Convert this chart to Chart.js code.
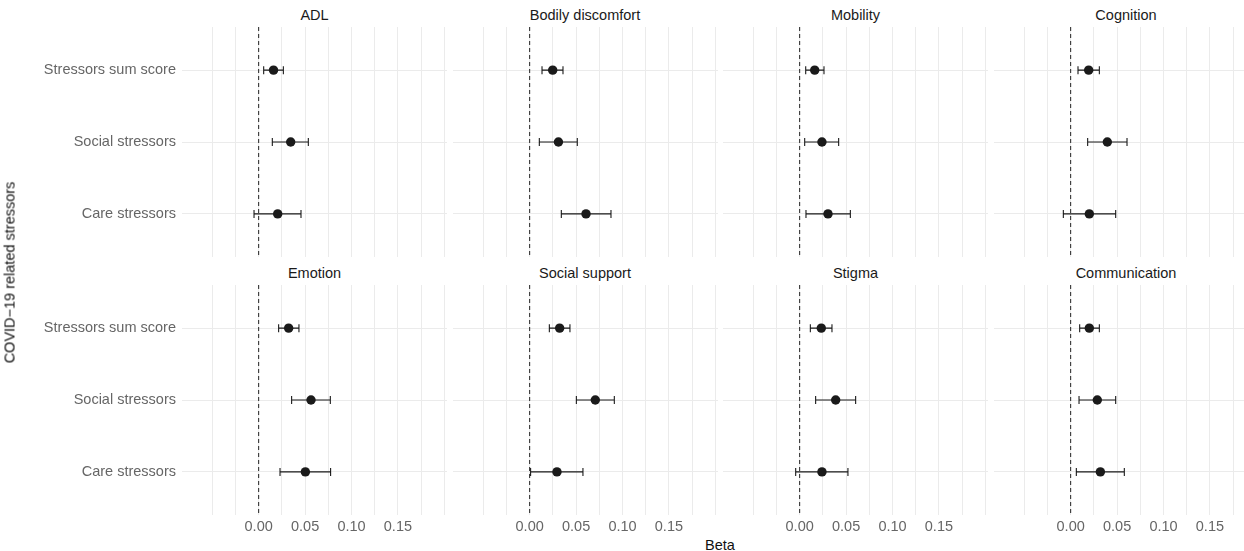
<!DOCTYPE html>
<html lang="en">
<head>
  <meta charset="UTF-8" />
  <title>COVID-19 stressors forest plot</title>
  <script src="https://cdn.jsdelivr.net/npm/chart.js"></script>
  <style>
    body { margin: 0; width: 1244px; height: 551px; overflow: hidden; background: #fff; position: relative;
           font-family: 'Liberation Sans', Arial, sans-serif; }
    .panel { position: absolute; }
    .strip { position: absolute; width: 265px; text-align: center; font-size: 14.5px; line-height: 17px; color: #1a1a1a; }
    .axis-title { position: absolute; font-size: 14.5px; line-height: 17px; color: #111; text-align: center; }
  </style>
</head>
<body>
<script>
// panels in facet order, rows = stressor categories (top to bottom)
const outcomes = ['ADL', 'Bodily discomfort', 'Mobility', 'Cognition',
                  'Emotion', 'Social support', 'Stigma', 'Communication'];
const categories = ['Stressors sum score', 'Social stressors', 'Care stressors'];

const betaEst = [
  [0.016, 0.0345, 0.0205],
  [0.0248, 0.031, 0.0607],
  [0.0162, 0.024, 0.0305],
  [0.0194, 0.0395, 0.0201],
  [0.0323, 0.0564, 0.0503],
  [0.0323, 0.0707, 0.0294],
  [0.0233, 0.0388, 0.024],
  [0.0201, 0.0287, 0.032]
];
const ciLow = [
  [0.0054, 0.0147, -0.005],
  [0.0133, 0.0104, 0.0341],
  [0.0065, 0.0054, 0.0068],
  [0.0079, 0.0183, -0.0079],
  [0.0215, 0.0355, 0.023],
  [0.0212, 0.0503, 0.001],
  [0.0115, 0.0172, -0.0043],
  [0.0097, 0.009, 0.0061]
];
const ciHigh = [
  [0.0266, 0.0535, 0.0456],
  [0.0359, 0.0513, 0.0876],
  [0.0262, 0.042, 0.0546],
  [0.0309, 0.0607, 0.0485],
  [0.0434, 0.0772, 0.0775],
  [0.0434, 0.0912, 0.0574],
  [0.0348, 0.0603, 0.052],
  [0.0309, 0.0485, 0.0578]
];

const xGridValues = [-0.05, -0.025, 0, 0.025, 0.05, 0.075, 0.1, 0.125, 0.15, 0.175, 0.2];
const xTickLabels = [0, 0.05, 0.1, 0.15];
const xMin = -0.0826, xMax = 0.2029;

// layout
const colLeft = [182, 452.5, 723, 993.5];
const rowTop = [27, 285];
const panelW = 265, panelH = 230, yAxisW = 182, xAxisH = 22;
const gridColor = '#ebebeb';
const tickColor = '#666666';
const tickFont = { family: "'Liberation Sans', Arial, sans-serif", size: 14.5 };

const errorBars = {
  id: 'errorBars',
  beforeDatasetDraw(chart, args) {
    if (args.index !== 1) return;
    const xs = chart.scales.x, ys = chart.scales.y, ctx = chart.ctx;
    ctx.save();
    ctx.strokeStyle = '#1a1a1a';
    ctx.lineWidth = 1.1;
    chart.data.datasets[1].data.forEach(p => {
      const py = ys.getPixelForValue(p.y);
      const x0 = xs.getPixelForValue(p.lo), x1 = xs.getPixelForValue(p.hi);
      ctx.beginPath();
      ctx.moveTo(x0, py); ctx.lineTo(x1, py);
      ctx.moveTo(x0, py - 4); ctx.lineTo(x0, py + 4);
      ctx.moveTo(x1, py - 4); ctx.lineTo(x1, py + 4);
      ctx.stroke();
    });
    ctx.restore();
  }
};

function addText(cls, text, left, top, width, extra) {
  const d = document.createElement('div');
  d.className = cls;
  d.textContent = text;
  d.style.left = left + 'px';
  d.style.top = top + 'px';
  if (width) d.style.width = width + 'px';
  if (extra) Object.assign(d.style, extra);
  document.body.appendChild(d);
}

outcomes.forEach((name, k) => {
  const col = k % 4, row = Math.floor(k / 4);
  const firstCol = col === 0, bottomRow = row === 1;
  const w = panelW + (firstCol ? yAxisW : 0);
  const h = panelH + (bottomRow ? xAxisH : 0);
  const left = firstCol ? colLeft[0] - yAxisW : colLeft[col];

  const wrap = document.createElement('div');
  wrap.className = 'panel';
  wrap.style.left = left + 'px';
  wrap.style.top = rowTop[row] + 'px';
  const cv = document.createElement('canvas');
  cv.width = w; cv.height = h;
  wrap.appendChild(cv);
  document.body.appendChild(wrap);

  addText('strip', name, colLeft[col], rowTop[row] - 20.5);

  const points = categories.map((c, i) => ({ x: betaEst[k][i], y: i + 1, lo: ciLow[k][i], hi: ciHigh[k][i] }));

  new Chart(cv.getContext('2d'), {
    type: 'scatter',
    data: {
      datasets: [
        { type: 'line', data: [{ x: 0, y: 0.4 }, { x: 0, y: 3.6 }], borderColor: '#222',
          borderWidth: 1, borderDash: [4, 3], pointRadius: 0 },
        { data: points, pointRadius: 4.7, pointBackgroundColor: '#1a1a1a', pointBorderWidth: 0 }
      ]
    },
    options: {
      responsive: false,
      animation: false,
      layout: { padding: 0, autoPadding: false },
      plugins: { legend: { display: false }, tooltip: { enabled: false } },
      scales: {
        x: {
          type: 'linear', min: xMin, max: xMax, position: 'bottom',
          border: { display: false },
          grid: { color: gridColor, lineWidth: 1, drawTicks: false },
          ticks: {
            display: bottomRow, autoSkip: false, maxRotation: 0, padding: 3,
            color: tickColor, font: tickFont,
            callback: v => xTickLabels.some(t => Math.abs(t - v) < 1e-9) ? v.toFixed(2) : ''
          },
          afterBuildTicks: s => { s.ticks = xGridValues.map(v => ({ value: v })); },
          afterFit: s => {
            s.height = bottomRow ? xAxisH : 0;
            s.paddingLeft = 0; s.paddingRight = 0;
          }
        },
        y: {
          type: 'linear', min: 0.4, max: 3.6, reverse: true,
          border: { display: false },
          grid: { color: gridColor, lineWidth: 1, drawTicks: false },
          ticks: {
            display: firstCol, padding: 6, color: tickColor, font: tickFont,
            callback: v => categories[v - 1]
          },
          afterBuildTicks: s => { s.ticks = [1, 2, 3].map(v => ({ value: v })); },
          afterFit: s => {
            s.width = firstCol ? yAxisW : 0;
            s.paddingTop = 0; s.paddingBottom = 0;
          }
        }
      }
    },
    plugins: [errorBars]
  });
});

addText('axis-title', 'Beta', 620, 536.5, 200);
addText('axis-title', 'COVID\u221219 related stressors', -140, 263.5, 300, { transform: 'rotate(-90deg)' });
</script>
</body>
</html>
